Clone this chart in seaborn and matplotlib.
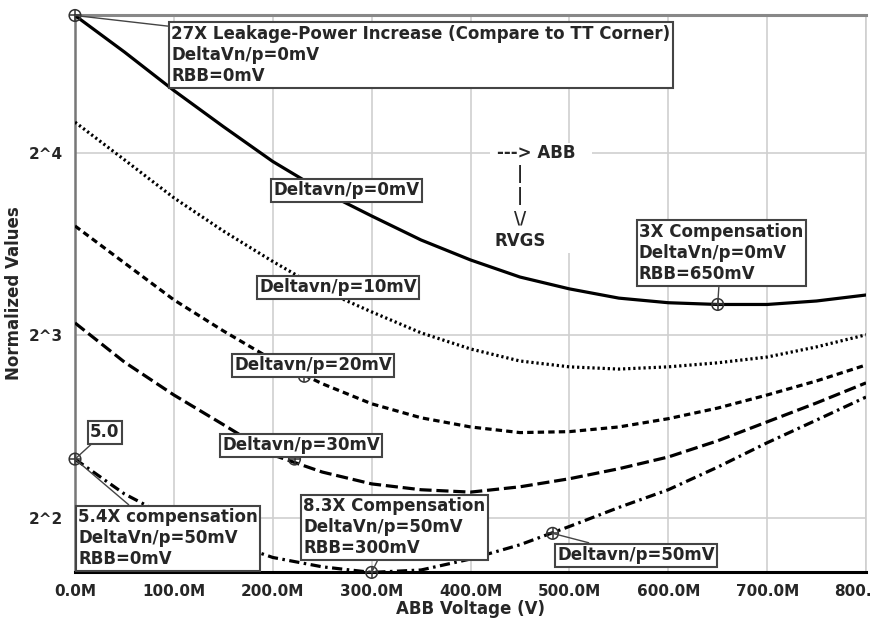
import numpy as np
import pandas as pd
import matplotlib
matplotlib.use("Agg")
import matplotlib.pyplot as plt
import seaborn as sns
from matplotlib.patches import Rectangle
from matplotlib.ticker import FuncFormatter, MultipleLocator, FixedLocator, NullLocator

# ---------------- data ----------------
abb_voltage = [0.00, 0.05, 0.10, 0.15, 0.20, 0.25, 0.30, 0.35, 0.40,
               0.45, 0.50, 0.55, 0.60, 0.65, 0.70, 0.75, 0.80]
dv_0mV = [27.0, 23.5, 20.3, 17.7, 15.5, 13.85, 12.6, 11.5, 10.66,
          9.99, 9.55, 9.22, 9.06, 9.0, 9.0, 9.12, 9.33]
dv_10mV = [18.0, 15.6, 13.5, 11.9, 10.6, 9.51, 8.75, 8.08, 7.60,
           7.26, 7.10, 7.04, 7.10, 7.21, 7.37, 7.66, 8.02]
dv_20mV = [12.13, 10.54, 9.16, 8.14, 7.29, 6.66, 6.17, 5.85, 5.65,
           5.53, 5.55, 5.65, 5.83, 6.07, 6.38, 6.73, 7.15]
dv_30mV = [8.39, 7.23, 6.38, 5.70, 5.08, 4.76, 4.55, 4.45, 4.41,
           4.50, 4.64, 4.82, 5.04, 5.36, 5.76, 6.19, 6.68]
dv_50mV = [5.0, 4.38, 3.97, 3.67, 3.44, 3.32, 3.25, 3.28, 3.42,
           3.61, 3.87, 4.16, 4.45, 4.85, 5.32, 5.80, 6.33]
series_names = ["0mV", "10mV", "20mV", "30mV", "50mV"]

# marked points (circle-plus markers)
marker_v = [0.0, 0.0, 0.222, 0.232, 0.30, 0.483, 0.65]
marker_y = [27.0, 5.0, 5.0, 6.85, 3.25, 3.77, 9.0]

y_ticks = [4, 8, 16]
y_tick_labels = ["2^2", "2^3", "2^4"]

# ---------------- figure ----------------
sns.set_theme(style="white")
plt.rcParams["font.family"] = ["DejaVu Sans"]

W, H = 872, 618
fig = plt.figure(figsize=(W / 100, H / 100), dpi=100)
L, R, T, B = 75, 866, 15, 572
ax = fig.add_axes([L / W, 1 - B / H, (R - L) / W, (B - T) / H])

def fx(px):
    return (px - L) / (R - L)

def fy(py):
    return (B - py) / (B - T)

df = pd.DataFrame({
    "ABB Voltage (V)": abb_voltage * 5,
    "Normalized Values": dv_0mV + dv_10mV + dv_20mV + dv_30mV + dv_50mV,
    "series": sum([[s] * len(abb_voltage) for s in series_names], []),
})

dashes = {
    "0mV": "",
    "10mV": (0.7, 0.9),
    "20mV": (2.0, 1.3),
    "30mV": (3.8, 1.5),
    "50mV": (3.2, 1.4, 0.8, 1.4),
}

ax.set_yscale("log", base=2)
sns.lineplot(data=df, x="ABB Voltage (V)", y="Normalized Values",
             style="series", style_order=series_names, dashes=dashes,
             color="black", linewidth=2.3, legend=False, ax=ax,
             estimator=None, sort=True, zorder=3)

ax.set_xlim(0, 0.8)
ax.set_ylim(3.255, 27.05)

# markers
ax.scatter(marker_v, marker_y, s=70, facecolors="none", edgecolors="#333333",
           linewidths=1.1, zorder=6, clip_on=False)
ax.scatter(marker_v, marker_y, s=70, marker="+", c="#333333",
           linewidths=1.1, zorder=6, clip_on=False)

# ticks
ax.yaxis.set_major_locator(FixedLocator(y_ticks))
ax.yaxis.set_minor_locator(NullLocator())
ax.set_yticklabels(y_tick_labels)
ax.xaxis.set_major_locator(MultipleLocator(0.1))
ax.xaxis.set_minor_locator(MultipleLocator(0.01))
ax.xaxis.set_major_formatter(FuncFormatter(lambda v, p: f"{v * 1000:.1f}M"))

ax.tick_params(axis="x", which="major", direction="out", length=7, width=1.5,
               color="black", labelsize=11, pad=2)
ax.tick_params(axis="x", which="minor", direction="out", length=5, width=1.2,
               color="black")
ax.tick_params(axis="y", which="major", direction="out", length=7, width=1.2,
               color="#666666", labelsize=11, pad=2)
for lab in ax.get_xticklabels() + ax.get_yticklabels():
    lab.set_fontweight("bold")

ax.grid(True, which="major", color="#cfcfcf", linewidth=1.2)
ax.set_axisbelow(True)

for side, col, lw in [("bottom", "black", 2.2), ("left", "#777777", 1.8),
                      ("top", "#888888", 2.2), ("right", "#cfcfcf", 1.2)]:
    ax.spines[side].set_visible(True)
    ax.spines[side].set_color(col)
    ax.spines[side].set_linewidth(lw)

ax.set_xlabel("ABB Voltage (V)", fontsize=12, fontweight="bold", labelpad=0)
ax.set_ylabel("Normalized Values", fontsize=12, fontweight="bold", labelpad=4)

# ---------------- annotations ----------------
box = dict(boxstyle="square,pad=0.15", fc="white", ec="#444444", lw=1.5)
arrow = dict(arrowstyle="-", color="#444444", lw=1.0, shrinkA=0, shrinkB=0)
fs = 12

ann_text = [
    "27X Leakage-Power Increase (Compare to TT Corner)\nDeltaVn/p=0mV\nRBB=0mV",
    "5.0",
    "5.4X compensation\nDeltaVn/p=50mV\nRBB=0mV",
    "Deltavn/p=30mV",
    "Deltavn/p=20mV",
    "8.3X Compensation\nDeltaVn/p=50mV\nRBB=300mV",
    "Deltavn/p=50mV",
    "3X Compensation\nDeltaVn/p=0mV\nRBB=650mV",
]
ann_marker_idx = [0, 1, 1, 2, 3, 4, 5, 6]
ann_box_px = [(171, 25), (90, 423), (78, 508), (222, 436), (234, 356),
              (303, 497), (557, 546), (639, 223)]

for txt, mi, (px, py) in zip(ann_text, ann_marker_idx, ann_box_px):
    ax.annotate(txt, xy=(marker_v[mi], marker_y[mi]), xycoords="data",
                xytext=(fx(px), fy(py)), textcoords="axes fraction",
                ha="left", va="top", fontsize=fs, fontweight="bold",
                linespacing=1.22, bbox=box, arrowprops=arrow, zorder=8,
                annotation_clip=False)

plain_labels = ["Deltavn/p=0mV", "Deltavn/p=10mV"]
plain_px = [(273, 181), (259, 278)]
for txt, (px, py) in zip(plain_labels, plain_px):
    ax.text(fx(px), fy(py), txt, transform=ax.transAxes, ha="left", va="top",
            fontsize=fs, fontweight="bold", bbox=box, zorder=8)

# ABB / RVGS direction note
ax.add_patch(Rectangle((fx(490), fy(253)), 102 / (R - L), 110 / (B - T),
                       transform=ax.transAxes, fc="white", ec="none", zorder=1))
ax.text(fx(497), fy(153), "---> ABB", transform=ax.transAxes, ha="left",
        va="center", fontsize=fs, fontweight="bold", zorder=8)
ax.text(fx(520), fy(165), "|\n|\n\\/\nRVGS", transform=ax.transAxes,
        ha="center", va="top", multialignment="center", fontsize=fs,
        fontweight="bold", linespacing=1.3, zorder=8)

fig.savefig("out.png", dpi=100)
